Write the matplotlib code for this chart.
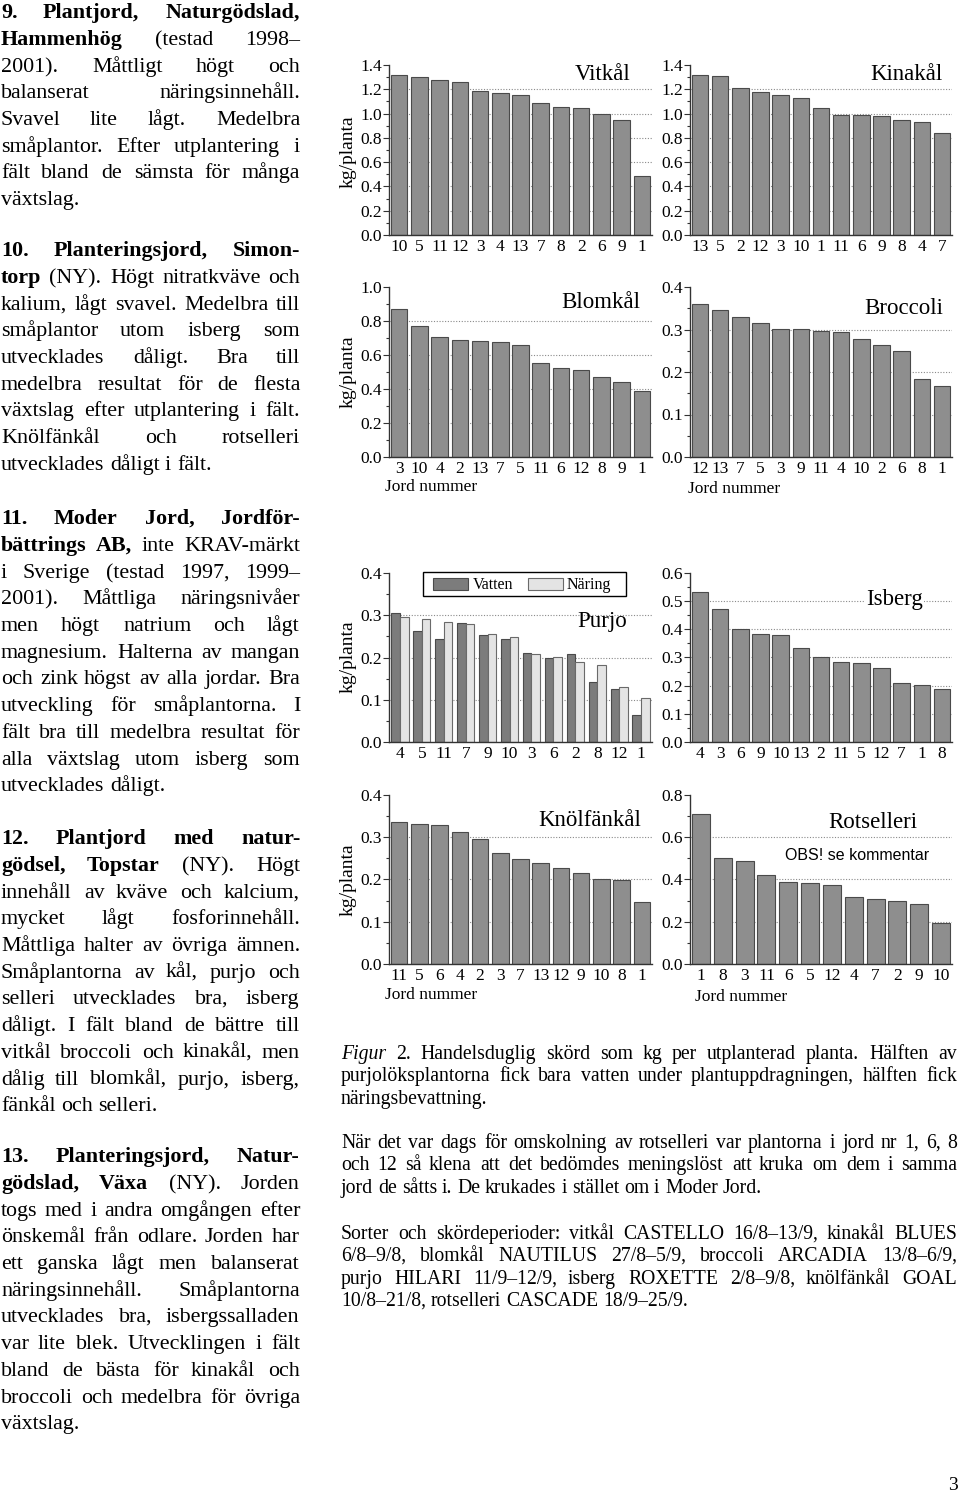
import matplotlib
matplotlib.use("Agg")
import numpy as np
import matplotlib.pyplot as plt
from matplotlib.patches import Rectangle
from matplotlib.ticker import MultipleLocator

W, H = 960, 1499
plt.rcParams['font.family'] = ['Liberation Serif', 'DejaVu Serif']

# Data: jordnummer i stapelordning och skörd (kg/planta)
vitkal_jord = ['10', '5', '11', '12', '3', '4', '13', '7', '8', '2', '6', '9', '1']
vitkal_kg = [1.315, 1.298, 1.276, 1.260, 1.186, 1.172, 1.153, 1.084, 1.057, 1.049, 0.996, 0.947, 0.486]

kinakal_jord = ['13', '5', '2', '12', '3', '10', '1', '11', '6', '9', '8', '4', '7']
kinakal_kg = [1.318, 1.307, 1.213, 1.175, 1.156, 1.125, 1.046, 0.991, 0.988, 0.980, 0.944, 0.933, 0.837]

blomkal_jord = ['3', '10', '4', '2', '13', '7', '5', '11', '6', '12', '8', '9', '1']
blomkal_kg = [0.871, 0.773, 0.705, 0.686, 0.680, 0.676, 0.658, 0.555, 0.521, 0.512, 0.471, 0.439, 0.390]

broccoli_jord = ['12', '13', '7', '5', '3', '9', '11', '4', '10', '2', '6', '8', '1']
broccoli_kg = [0.361, 0.347, 0.329, 0.315, 0.302, 0.302, 0.296, 0.294, 0.278, 0.264, 0.249, 0.184, 0.167]

purjo_jord = ['4', '5', '11', '7', '9', '10', '3', '6', '2', '8', '12', '1']
purjo_vatten = [0.306, 0.262, 0.244, 0.282, 0.254, 0.244, 0.211, 0.199, 0.208, 0.141, 0.125, 0.063]
purjo_naring = [0.297, 0.292, 0.284, 0.280, 0.256, 0.248, 0.209, 0.201, 0.190, 0.183, 0.131, 0.105]

isberg_jord = ['4', '3', '6', '9', '10', '13', '2', '11', '5', '12', '7', '1', '8']
isberg_kg = [0.531, 0.472, 0.402, 0.383, 0.381, 0.334, 0.301, 0.285, 0.279, 0.264, 0.211, 0.203, 0.187]

knolfankal_jord = ['11', '5', '6', '4', '2', '3', '7', '13', '12', '9', '10', '8', '1']
knolfankal_kg = [0.335, 0.331, 0.328, 0.313, 0.296, 0.262, 0.248, 0.239, 0.228, 0.215, 0.200, 0.199, 0.147]

rotselleri_jord = ['1', '8', '3', '11', '6', '5', '12', '4', '7', '2', '9', '10']
rotselleri_kg = [0.710, 0.502, 0.488, 0.422, 0.389, 0.384, 0.375, 0.317, 0.310, 0.299, 0.283, 0.192]

fig = plt.figure(figsize=(W / 100, H / 100), dpi=100)


def fy(y):
    return 1 - y / H


# Gemensam formatering av ett diagram
def axel(x0, x1, y0, y1, n, ymax, steg):
    ax = fig.add_axes([x0 / W, 1 - y1 / H, (x1 - x0) / W, (y1 - y0) / H])
    ax.set_xlim(-0.5, n - 0.5)
    ax.set_ylim(0, ymax)
    ticks = np.arange(0, ymax + steg / 2, steg)
    ax.set_yticks(ticks)
    ax.set_yticklabels(['%.1f' % t for t in ticks])
    ax.yaxis.set_minor_locator(MultipleLocator(steg / 2))
    for t in ticks[1:-1]:
        ax.axhline(t, color='#8a8a8a', lw=0.8, ls=(0, (1, 1.5)), zorder=0)
    for s in ['top', 'right']:
        ax.spines[s].set_visible(False)
    for s in ['left', 'bottom']:
        ax.spines[s].set_color('#333333')
        ax.spines[s].set_linewidth(1)
    ax.tick_params(axis='y', which='major', length=4, width=0.8, color='#333333', labelsize=12.5, pad=1)
    ax.tick_params(axis='y', which='minor', length=2.5, width=0.8, color='#333333')
    ax.tick_params(axis='x', length=0, labelsize=12.5, pad=3)
    return ax


def stapel(x0, x1, y0, y1, jord, varden, ymax, steg):
    ax = axel(x0, x1, y0, y1, len(jord), ymax, steg)
    pos = np.arange(len(jord))
    ax.bar(pos, varden, width=0.82, color='#8e8e8e', edgecolor='#4a4a4a', linewidth=0.8, zorder=2)
    ax.set_xticks(pos)
    ax.set_xticklabels(jord)
    return ax


VX0, VX1 = 389, 652
HX0, HX1 = 690, 952

stapel(VX0, VX1, 65, 235, vitkal_jord, vitkal_kg, 1.4, 0.2)
stapel(HX0, HX1, 65, 235, kinakal_jord, kinakal_kg, 1.4, 0.2)
stapel(VX0, VX1, 287, 457, blomkal_jord, blomkal_kg, 1.0, 0.2)
stapel(HX0, HX1, 287, 457, broccoli_jord, broccoli_kg, 0.4, 0.1)
stapel(HX0, HX1, 573, 742, isberg_jord, isberg_kg, 0.6, 0.1)
stapel(VX0, VX1, 795, 964, knolfankal_jord, knolfankal_kg, 0.4, 0.1)
stapel(HX0, HX1, 795, 964, rotselleri_jord, rotselleri_kg, 0.8, 0.2)

# Purjo: två staplar per jord
VATTEN_F, NARING_F = '#7c7c7c', '#e4e4e4'
ax = axel(VX0, VX1, 573, 742, len(purjo_jord), 0.4, 0.1)
pos = np.arange(len(purjo_jord))
ax.bar(pos - 0.195, purjo_vatten, width=0.39, color=VATTEN_F, edgecolor='#4a4a4a', linewidth=0.8, zorder=2)
ax.bar(pos + 0.195, purjo_naring, width=0.39, color=NARING_F, edgecolor='#6a6a6a', linewidth=0.8, zorder=2)
ax.set_xticks(pos)
ax.set_xticklabels(purjo_jord)


# Teckenförklaring ritad för hand (ram, rutor och text)
def ruta(x0, y0, x1, y1, **kw):
    fig.add_artist(Rectangle((x0 / W, fy(y1)), (x1 - x0) / W, (y1 - y0) / H,
                             transform=fig.transFigure, **kw))


ruta(423, 572, 626, 596, facecolor='white', edgecolor='black', lw=1, zorder=5)
ruta(433, 578, 468, 590, facecolor=VATTEN_F, edgecolor='#4a4a4a', lw=0.8, zorder=6)
ruta(528, 578, 563, 590, facecolor=NARING_F, edgecolor='#6a6a6a', lw=0.8, zorder=6)
fig.text(473 / W, fy(589), 'Vatten', fontsize=11.5, ha='left', va='baseline', zorder=7)
fig.text(567 / W, fy(589), 'Näring', fontsize=11.5, ha='left', va='baseline', zorder=7)

# Rubriker i diagrammen
titlar = [('Vitkål', 630, 75), ('Kinakål', 943, 75), ('Blomkål', 640, 303),
          ('Broccoli', 943, 309), ('Purjo', 627, 621), ('Isberg', 923, 600),
          ('Knölfänkål', 641, 820), ('Rotselleri', 917, 822)]
for txt, x, y in titlar:
    t = fig.text(x / W, fy(y), txt, fontsize=16.5, ha='right', va='center')
    if txt == 'Isberg':
        t.set_bbox(dict(facecolor='white', edgecolor='none', pad=1))
fig.text(785 / W, fy(855), 'OBS! se kommentar', fontsize=11.5, family=['Liberation Sans', 'DejaVu Sans'],
         ha='left', va='center')

for yc in [152, 372, 657, 880]:
    fig.text(348 / W, fy(yc), 'kg/planta', fontsize=14, rotation=90, ha='center', va='center')
for x, y in [(385, 487), (688, 489), (385, 995), (695, 997)]:
    fig.text(x / W, fy(y), 'Jord nummer', fontsize=12.5, ha='left', va='center')

# Text med marginaljustering
renderer = fig.canvas.get_renderer()


def stycke(rader, x0, x1, y_start, radavst, storlek):
    em = storlek * 100 / 72
    mellan = em * 0.25
    for i, rad in enumerate(rader):
        y = round(y_start + i * radavst + 0.33 * em)
        texter = []
        for o in rad.split(' '):
            vikt, stil = 'normal', 'normal'
            if o.startswith('*'):
                vikt, o = 'bold', o[1:]
            elif o.startswith('_'):
                stil, o = 'italic', o[1:]
            texter.append(fig.text(0, fy(y), o, fontsize=storlek, fontweight=vikt,
                                   fontstyle=stil, ha='left', va='baseline'))
        bredder = [t.get_window_extent(renderer).width for t in texter]
        if i == len(rader) - 1 or len(texter) == 1:
            gap = mellan
        else:
            gap = (x1 - x0 - sum(bredder)) / (len(texter) - 1)
        x = x0
        for t, b in zip(texter, bredder):
            t.set_x(round(x) / W)
            x += b + gap


vanster = [
    (11, ['*9. *Plantjord, *Naturgödslad,',
          '*Hammenhög (testad 1998–',
          '2001). Måttligt högt och',
          'balanserat näringsinnehåll.',
          'Svavel lite lågt. Medelbra',
          'småplantor. Efter utplantering i',
          'fält bland de sämsta för många',
          'växtslag.']),
    (249, ['*10. *Planteringsjord, *Simon-',
           '*torp (NY). Högt nitratkväve och',
           'kalium, lågt svavel. Medelbra till',
           'småplantor utom isberg som',
           'utvecklades dåligt. Bra till',
           'medelbra resultat för de flesta',
           'växtslag efter utplantering i fält.',
           'Knölfänkål och rotselleri',
           'utvecklades dåligt i fält.']),
    (517, ['*11. *Moder *Jord, *Jordför-',
           '*bättrings *AB, inte KRAV-märkt',
           'i Sverige (testad 1997, 1999–',
           '2001). Måttliga näringsnivåer',
           'men högt natrium och lågt',
           'magnesium. Halterna av mangan',
           'och zink högst av alla jordar. Bra',
           'utveckling för småplantorna. I',
           'fält bra till medelbra resultat för',
           'alla växtslag utom isberg som',
           'utvecklades dåligt.']),
    (837, ['*12. *Plantjord *med *natur-',
           '*gödsel, *Topstar (NY). Högt',
           'innehåll av kväve och kalcium,',
           'mycket lågt fosforinnehåll.',
           'Måttliga halter av övriga ämnen.',
           'Småplantorna av kål, purjo och',
           'selleri utvecklades bra, isberg',
           'dåligt. I fält bland de bättre till',
           'vitkål broccoli och kinakål, men',
           'dålig till blomkål, purjo, isberg,',
           'fänkål och selleri.']),
    (1155, ['*13. *Planteringsjord, *Natur-',
            '*gödslad, *Växa (NY). Jorden',
            'togs med i andra omgången efter',
            'önskemål från odlare. Jorden har',
            'ett ganska lågt men balanserat',
            'näringsinnehåll. Småplantorna',
            'utvecklades bra, isbergssalladen',
            'var lite blek. Utvecklingen i fält',
            'bland de bästa för kinakål och',
            'broccoli och medelbra för övriga',
            'växtslag.']),
]
for y0, rader in vanster:
    stycke(rader, 1, 300, y0, 26.7, 15.8)

hoger = [
    (1052, ['_Figur 2. Handelsduglig skörd som kg per utplanterad planta. Hälften av',
            'purjolöksplantorna fick bara vatten under plantuppdragningen, hälften fick',
            'näringsbevattning.']),
    (1141, ['När det var dags för omskolning av rotselleri var plantorna i jord nr 1, 6, 8',
            'och 12 så klena att det bedömdes meningslöst att kruka om dem i samma',
            'jord de såtts i. De krukades i stället om i Moder Jord.']),
    (1232, ['Sorter och skördeperioder: vitkål CASTELLO 16/8–13/9, kinakål BLUES',
            '6/8–9/8, blomkål NAUTILUS 27/8–5/9, broccoli ARCADIA 13/8–6/9,',
            'purjo HILARI 11/9–12/9, isberg ROXETTE 2/8–9/8, knölfänkål GOAL',
            '10/8–21/8, rotselleri CASCADE 18/9–25/9.']),
]
for y0, rader in hoger:
    stycke(rader, 341, 957, y0, 22.5, 14.2)

fig.text(948 / W, fy(1485), '3', fontsize=14, ha='left', va='center')

fig.savefig('out.png', dpi=100)
